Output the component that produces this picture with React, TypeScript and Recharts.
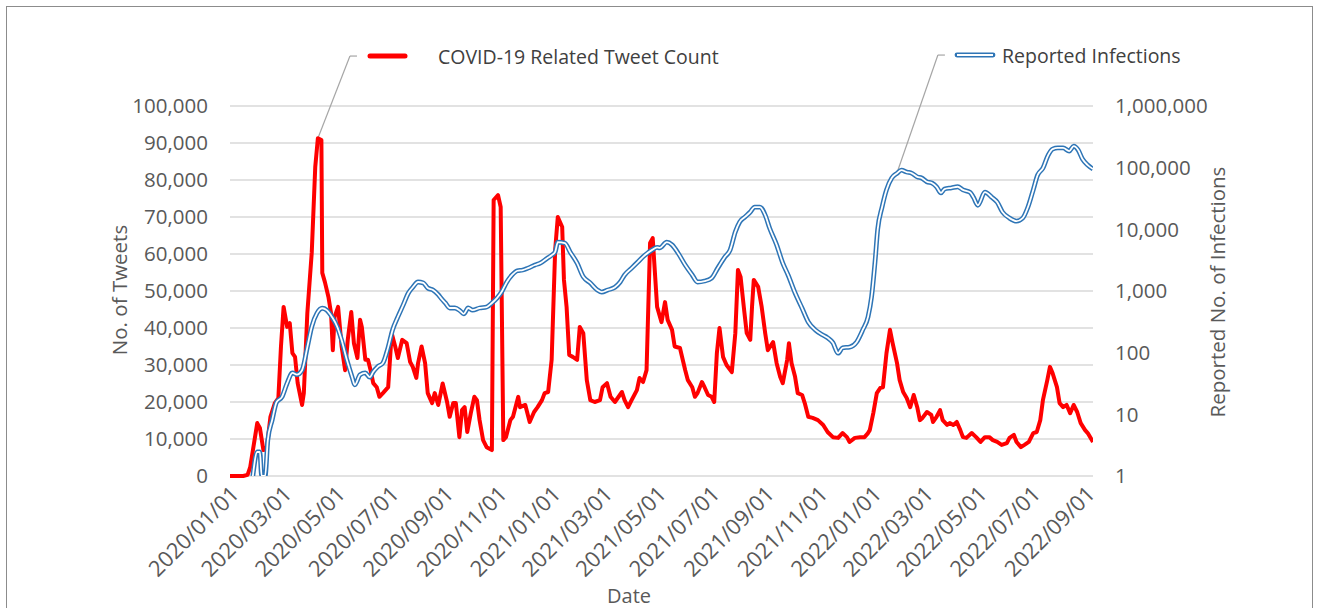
import React from "react"
import { LineChart, Line, XAxis, YAxis, CartesianGrid, ReferenceLine } from "recharts"

// x positions are days since 2020/01/01
const tickDays = [0, 60, 121, 182, 244, 305, 366, 425, 486, 547, 609, 670, 731, 790, 851, 912, 974]
const tickLabels = [
  "2020/01/01", "2020/03/01", "2020/05/01", "2020/07/01", "2020/09/01", "2020/11/01",
  "2021/01/01", "2021/03/01", "2021/05/01", "2021/07/01", "2021/09/01", "2021/11/01",
  "2022/01/01", "2022/03/01", "2022/05/01", "2022/07/01", "2022/09/01",
]

const tweetDays = [
  0, 15, 20, 23, 31, 34, 38, 42, 46, 51, 55, 58, 61, 65, 68, 71, 74, 77, 82, 84,
  88, 91, 93, 97, 100, 104, 105, 108, 112, 115, 117, 119, 123, 127, 131, 134, 138, 141, 145, 148,
  150, 154, 157, 160, 163, 167, 170, 174, 180, 184, 188, 191, 196, 201, 205, 208, 212, 214, 218, 222,
  225, 230, 233, 237, 242, 247, 250, 254, 257, 261, 264, 267, 270, 274, 278, 281, 284, 288, 292, 298,
  300, 305, 308, 311, 314, 319, 322, 328, 330, 336, 341, 346, 350, 355, 358, 362, 366, 370, 373, 378,
  380, 383, 386, 390, 395, 398, 402, 406, 410, 415, 421, 424, 429, 433, 438, 446, 449, 453, 457, 463,
  466, 470, 474, 478, 481, 486, 491, 495, 498, 503, 506, 512, 518, 521, 526, 529, 532, 537, 540, 544,
  548, 551, 554, 557, 561, 565, 571, 575, 578, 581, 585, 588, 592, 594, 596, 601, 605, 609, 612, 618,
  622, 626, 629, 634, 636, 639, 643, 646, 651, 654, 658, 663, 669, 675, 680, 686, 692, 697, 702, 705,
  711, 717, 722, 726, 728, 732, 736, 740, 743, 747, 751, 754, 759, 762, 766, 770, 774, 778, 782, 785,
  788, 793, 798, 800, 804, 808, 811, 816, 819, 823, 827, 831, 834, 838, 844, 849, 854, 859, 864, 868,
  873, 878, 884, 887, 892, 895, 900, 904, 909, 914, 918, 922, 925, 930, 933, 936, 941, 944, 948, 952,
  956, 960, 964, 968, 973, 976, 982,
]
const tweetCounts = [
  0, 0, 300, 2400, 14300, 13000, 7000, 7800, 16000, 19700, 21000, 35000, 45700, 40300, 41300, 33200, 32200, 25100, 19200, 22400,
  44000, 53800, 60300, 83500, 91300, 90800, 54900, 52400, 48400, 44000, 34000, 43000, 45700, 35000, 28600, 36800, 44300, 35900, 31900, 42200,
  40300, 31400, 31400, 28600, 25100, 24000, 21400, 22400, 24000, 38600, 35000, 31900, 36800, 35900, 30800, 29500, 26500, 30500, 35000, 30500,
  22400, 19700, 22400, 19200, 25000, 20000, 16000, 19700, 19700, 10500, 17800, 18600, 11900, 17000, 21400, 20500, 15100, 9700, 7800, 7000,
  74600, 75900, 72700, 9700, 10500, 15100, 16000, 21400, 18600, 19200, 14600, 17300, 18600, 20500, 22400, 22700, 31400, 61100, 70000, 67300,
  53000, 45700, 32700, 32200, 31400, 40300, 38600, 25900, 20500, 20000, 20500, 24000, 25100, 21400, 20000, 22700, 20500, 18600, 20500, 23200,
  26500, 25400, 28600, 63000, 64300, 45700, 41600, 47000, 42200, 39500, 35000, 34600, 28600, 25900, 24000, 21400, 22400, 25400, 24000, 21900,
  21400, 20000, 33200, 40000, 32200, 30000, 28100, 38600, 55700, 53800, 44900, 38600, 36800, 45700, 53000, 51100, 45700, 38600, 34000, 36200,
  30500, 26800, 25100, 31400, 35900, 30500, 26800, 22400, 21900, 19700, 16000, 15700, 15100, 13800, 11900, 10500, 10300, 11600, 10500, 9200,
  10300, 10500, 10500, 11600, 12400, 17000, 22400, 23800, 24000, 33200, 39500, 35900, 30500, 25900, 22700, 21100, 18600, 21900, 18600, 15100,
  15700, 17300, 16500, 14600, 16000, 17800, 15100, 13800, 14300, 13800, 14600, 12400, 10500, 10300, 11600, 10500, 9200, 10500, 10500, 9700,
  9200, 8400, 8900, 10300, 11100, 9200, 7800, 8400, 9200, 11600, 11900, 15100, 20500, 25900, 29500, 27800, 24000, 19700, 18600, 19200,
  17000, 19200, 17300, 14300, 12400, 11600, 9200,
]

const infectionDays = [
  26, 31, 34, 36, 40, 43, 48, 53, 59, 65, 71, 76, 82, 88, 93, 99, 105, 110, 116, 122,
  127, 133, 139, 142, 148, 154, 159, 163, 168, 174, 180, 185, 191, 197, 203, 208, 214, 220, 225, 231,
  237, 241, 245, 250, 256, 262, 266, 271, 276, 284, 292, 298, 304, 309, 315, 321, 327, 333, 339, 347,
  353, 361, 366, 370, 373, 381, 387, 395, 402, 410, 418, 423, 430, 438, 444, 449, 457, 464, 472, 480,
  486, 489, 497, 503, 510, 518, 526, 532, 540, 548, 555, 563, 569, 575, 580, 586, 592, 597, 603, 609,
  614, 622, 629, 635, 643, 651, 658, 666, 674, 680, 686, 692, 697, 705, 713, 720, 726, 730, 734, 737,
  742, 747, 753, 759, 764, 770, 776, 782, 787, 793, 799, 804, 809, 813, 821, 828, 834, 842, 846, 851,
  859, 867, 873, 879, 887, 895, 902, 908, 914, 919, 925, 931, 936, 942, 948, 955, 960, 965, 970, 976,
  982,
]
const infections = [
  1, 2.45, 2.45, 1, 1, 3.8, 8.1, 15.8, 19, 32, 47, 44, 52, 123, 263, 437, 525, 490, 380, 263,
  160, 76, 40, 30, 44, 47, 40, 49, 59, 68, 123, 234, 380, 590, 930, 1150, 1400, 1350, 1120, 1040,
  870, 740, 640, 530, 530, 475, 425, 530, 490, 530, 550, 640, 775, 960, 1400, 1820, 2130, 2190, 2350, 2640,
  2830, 3400, 3800, 4300, 6200, 6000, 4300, 2830, 1700, 1350, 1040, 960, 1040, 1150, 1400, 1820, 2350, 2950, 3800, 4600,
  5100, 5000, 6200, 5600, 4100, 2640, 1820, 1400, 1450, 1620, 2350, 3550, 4600, 9100, 13200, 15900, 19100, 23000, 23000, 17000,
  10500, 5600, 2830, 1820, 930, 525, 315, 234, 195, 174, 145, 98, 120, 123, 148, 234, 380, 800, 3000, 10000,
  23000, 43600, 68000, 81000, 91000, 85000, 81000, 71000, 68000, 59000, 56000, 49000, 39000, 45000, 47000, 49000, 43600, 40000, 33000, 24600,
  40000, 33000, 27600, 19100, 15200, 13600, 15200, 23000, 43600, 76000, 98000, 160000, 200000, 209000, 209000, 186000, 224000, 195000, 138000, 110000,
  95000,
]

const leftTicks = [0, 10000, 20000, 30000, 40000, 50000, 60000, 70000, 80000, 90000, 100000]
const rightTicks = [1, 10, 100, 1000, 10000, 100000, 1000000]

const tweetData = tweetDays.map((day, i) => ({ day, tweets: tweetCounts[i] }))
const infectionData = infectionDays.map((day, i) => ({ day, infections: infections[i] }))

const FONT = "'Open Sans', sans-serif"
const AXIS_TEXT = "#595959"
const LEGEND_TEXT = "#404040"
const RED = "#ff0000"
const BLUE = "#2e75b6"
const LEADER = "#a6a6a6"

const fmt = (v: number) => v.toLocaleString("en-US")

const DateTick = ({ x, y, payload }: any) => {
  const idx = tickDays.indexOf(payload.value)
  return (
    <text
      x={x + 5}
      y={y}
      dy="0.35em"
      transform={`rotate(-45 ${x + 5} ${y})`}
      textAnchor="end"
      fontSize={22}
      fontFamily={FONT}
      fill={AXIS_TEXT}
    >
      {idx >= 0 ? tickLabels[idx] : ""}
    </text>
  )
}

export default function App() {
  return (
    <div style={{ position: "absolute", left: 0, top: 0, width: 1319, height: 608, background: "#fff", overflow: "hidden" }}>
      <div
        style={{
          position: "absolute",
          left: 6,
          top: 6,
          width: 1305,
          height: 640,
          borderTop: "1.5px solid #8c8c8c",
          borderLeft: "1.5px solid #8c8c8c",
          borderRight: "1.5px solid #8c8c8c",
        }}
      />
      <div style={{ position: "absolute", left: 0, top: 0 }}>
        <LineChart width={1319} height={608} margin={{ top: 106, right: 106, bottom: 32, left: 110 }}>
          <CartesianGrid yAxisId="left" vertical={false} stroke="#d9d9d9" strokeWidth={1.3} />
          <XAxis
            dataKey="day"
            type="number"
            domain={[0, 982]}
            ticks={tickDays}
            tick={<DateTick />}
            tickSize={0}
            tickMargin={14}
            axisLine={false}
            tickLine={false}
            height={100}
            interval={0}
            allowDataOverflow
          />
          <YAxis
            yAxisId="left"
            domain={[0, 100000]}
            ticks={leftTicks}
            tickFormatter={fmt}
            width={120}
            tickSize={0}
            tickMargin={22}
            axisLine={false}
            tickLine={false}
            tick={{ fontSize: 20.5, fontFamily: FONT, fill: AXIS_TEXT }}
            interval={0}
          />
          <YAxis
            yAxisId="right"
            orientation="right"
            scale="log"
            domain={[1, 1000000]}
            ticks={rightTicks}
            tickFormatter={fmt}
            width={120}
            tickSize={0}
            tickMargin={22}
            axisLine={false}
            tickLine={false}
            tick={{ fontSize: 20.5, fontFamily: FONT, fill: AXIS_TEXT, textAnchor: "start" }}
            interval={0}
            allowDataOverflow
          />
          {/* leader lines from legend entries to the series */}
          <ReferenceLine
            yAxisId="left"
            segment={[{ x: 100, y: 91300 }, { x: 136.5, y: 113500 }]}
            stroke={LEADER}
            strokeWidth={1.2}
            ifOverflow="visible"
          />
          <ReferenceLine
            yAxisId="left"
            segment={[{ x: 136.5, y: 113500 }, { x: 144.5, y: 113500 }]}
            stroke={LEADER}
            strokeWidth={1.2}
            ifOverflow="visible"
          />
          <ReferenceLine
            yAxisId="right"
            segment={[{ x: 760, y: 91000 }, { x: 805.5, y: 6700000 }]}
            stroke={LEADER}
            strokeWidth={1.2}
            ifOverflow="visible"
          />
          <ReferenceLine
            yAxisId="right"
            segment={[{ x: 805.5, y: 6700000 }, { x: 813.5, y: 6700000 }]}
            stroke={LEADER}
            strokeWidth={1.2}
            ifOverflow="visible"
          />
          <Line
            yAxisId="left"
            data={tweetData}
            dataKey="tweets"
            type="linear"
            stroke={RED}
            strokeWidth={4}
            strokeLinejoin="round"
            dot={false}
            activeDot={false}
            isAnimationActive={false}
          />
          <Line
            yAxisId="right"
            data={infectionData}
            dataKey="infections"
            type="monotone"
            stroke={BLUE}
            strokeWidth={4.8}
            dot={false}
            activeDot={false}
            isAnimationActive={false}
          />
          <Line
            yAxisId="right"
            data={infectionData}
            dataKey="infections"
            type="monotone"
            stroke="#ffffff"
            strokeWidth={1.8}
            dot={false}
            activeDot={false}
            isAnimationActive={false}
          />
        </LineChart>
      </div>
      <svg width={1319} height={608} style={{ position: "absolute", left: 0, top: 0, pointerEvents: "none" }}>
        {/* legend */}
        <line x1={370} y1={56} x2={405} y2={56} stroke={RED} strokeWidth={5} strokeLinecap="round" />
        <text x={438} y={57} dy="0.35em" fontSize={19.5} fontFamily={FONT} fill={LEGEND_TEXT}>
          COVID-19 Related Tweet Count
        </text>
        <line x1={957} y1={55} x2={993} y2={55} stroke={BLUE} strokeWidth={4.8} strokeLinecap="round" />
        <line x1={957} y1={55} x2={993} y2={55} stroke="#ffffff" strokeWidth={1.8} />
        <text x={1002} y={56} dy="0.35em" fontSize={19.5} fontFamily={FONT} fill={LEGEND_TEXT}>
          Reported Infections
        </text>
        {/* axis titles */}
        <text x={120} y={290} dy="0.35em" transform="rotate(-90 120 290)" textAnchor="middle" fontSize={20.5} fontFamily={FONT} fill={AXIS_TEXT}>
          No. of Tweets
        </text>
        <text x={1218} y={292} dy="0.35em" transform="rotate(-90 1218 292)" textAnchor="middle" fontSize={20.5} fontFamily={FONT} fill={AXIS_TEXT}>
          Reported No. of Infections
        </text>
        <text x={629} y={596} dy="0.35em" textAnchor="middle" fontSize={20} fontFamily={FONT} fill={AXIS_TEXT}>
          Date
        </text>
      </svg>
    </div>
  )
}
